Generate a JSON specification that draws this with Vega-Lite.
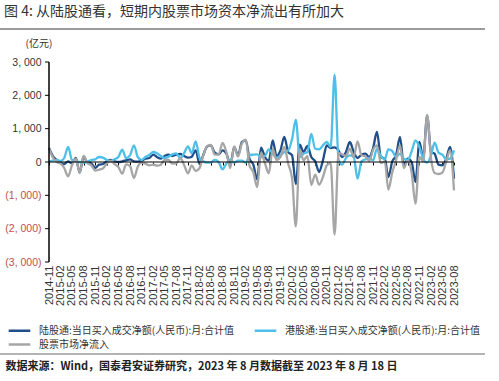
{
  "$schema": "https://vega.github.io/schema/vega-lite/v6.json",
  "width": 405,
  "height": 200,
  "autosize": "none",
  "padding": {"left": 49, "top": 62, "right": 45, "bottom": 119},
  "background": "white",
  "config": {"view": {"stroke": null}, "font": "Noto Sans CJK SC"},
  "title": {
    "text": "图 4: 从陆股通看，短期内股票市场资本净流出有所加大",
    "anchor": "start", "frame": "group", "dx": -45, "offset": 9,
    "font": "Noto Sans CJK SC", "fontSize": 14, "fontWeight": "normal", "color": "#333"
  },
  "datasets": {
    "flows": [
      {"date": "2014-11", "N": 420, "S": 20, "G": 400},
      {"date": "2014-12", "N": 180, "S": 40, "G": 140},
      {"date": "2015-01", "N": 60, "S": 60, "G": 0},
      {"date": "2015-02", "N": -20, "S": 30, "G": -50},
      {"date": "2015-03", "N": -60, "S": 120, "G": -180},
      {"date": "2015-04", "N": 20, "S": 450, "G": -430},
      {"date": "2015-05", "N": -40, "S": 60, "G": -100},
      {"date": "2015-06", "N": 120, "S": 20, "G": 100},
      {"date": "2015-07", "N": -320, "S": 0, "G": -320},
      {"date": "2015-08", "N": 160, "S": -20, "G": 180},
      {"date": "2015-09", "N": -20, "S": 10, "G": -30},
      {"date": "2015-10", "N": -40, "S": 60, "G": -100},
      {"date": "2015-11", "N": -180, "S": 80, "G": -260},
      {"date": "2015-12", "N": -80, "S": 150, "G": -230},
      {"date": "2016-01", "N": -60, "S": 130, "G": -190},
      {"date": "2016-02", "N": 20, "S": 60, "G": -40},
      {"date": "2016-03", "N": 60, "S": 20, "G": 40},
      {"date": "2016-04", "N": 20, "S": 80, "G": -60},
      {"date": "2016-05", "N": 0, "S": 150, "G": -150},
      {"date": "2016-06", "N": 20, "S": 370, "G": -350},
      {"date": "2016-07", "N": 50, "S": 120, "G": -70},
      {"date": "2016-08", "N": 80, "S": 200, "G": -120},
      {"date": "2016-09", "N": 20, "S": 500, "G": -480},
      {"date": "2016-10", "N": 10, "S": 150, "G": -140},
      {"date": "2016-11", "N": 40, "S": 60, "G": -20},
      {"date": "2016-12", "N": 100, "S": 150, "G": -50},
      {"date": "2017-01", "N": 120, "S": 220, "G": -100},
      {"date": "2017-02", "N": 220, "S": 300, "G": -80},
      {"date": "2017-03", "N": 150, "S": 260, "G": -110},
      {"date": "2017-04", "N": 100, "S": 180, "G": -80},
      {"date": "2017-05", "N": 180, "S": 120, "G": 60},
      {"date": "2017-06", "N": 220, "S": 160, "G": 60},
      {"date": "2017-07", "N": 180, "S": 230, "G": -50},
      {"date": "2017-08", "N": 220, "S": 260, "G": -40},
      {"date": "2017-09", "N": 240, "S": 120, "G": 120},
      {"date": "2017-10", "N": 180, "S": 260, "G": -80},
      {"date": "2017-11", "N": 130, "S": 470, "G": -340},
      {"date": "2017-12", "N": 160, "S": 260, "G": -100},
      {"date": "2018-01", "N": 350, "S": 620, "G": -270},
      {"date": "2018-02", "N": -60, "S": 120, "G": -180},
      {"date": "2018-03", "N": 200, "S": 20, "G": 180},
      {"date": "2018-04", "N": 460, "S": -20, "G": 480},
      {"date": "2018-05", "N": 500, "S": -10, "G": 510},
      {"date": "2018-06", "N": 280, "S": 60, "G": 220},
      {"date": "2018-07", "N": 230, "S": 0, "G": 230},
      {"date": "2018-08", "N": 350, "S": -220, "G": 570},
      {"date": "2018-09", "N": 250, "S": -40, "G": 290},
      {"date": "2018-10", "N": -100, "S": 80, "G": -180},
      {"date": "2018-11", "N": 450, "S": -20, "G": 470},
      {"date": "2018-12", "N": 200, "S": 40, "G": 160},
      {"date": "2019-01", "N": 600, "S": 40, "G": 560},
      {"date": "2019-02", "N": 650, "S": -20, "G": 670},
      {"date": "2019-03", "N": 100, "S": 200, "G": -100},
      {"date": "2019-04", "N": -80, "S": 220, "G": -300},
      {"date": "2019-05", "N": -520, "S": 230, "G": -750},
      {"date": "2019-06", "N": 430, "S": 150, "G": 280},
      {"date": "2019-07", "N": 150, "S": 180, "G": -30},
      {"date": "2019-08", "N": 40, "S": 380, "G": -340},
      {"date": "2019-09", "N": 650, "S": 260, "G": 390},
      {"date": "2019-10", "N": 180, "S": 120, "G": 60},
      {"date": "2019-11", "N": 350, "S": 200, "G": 150},
      {"date": "2019-12", "N": 750, "S": 300, "G": 450},
      {"date": "2020-01", "N": 300, "S": 350, "G": -50},
      {"date": "2020-02", "N": 200, "S": 700, "G": -500},
      {"date": "2020-03", "N": -660, "S": 1270, "G": -1930},
      {"date": "2020-04", "N": 520, "S": 150, "G": 370},
      {"date": "2020-05", "N": 300, "S": 250, "G": 50},
      {"date": "2020-06", "N": 480, "S": 300, "G": 180},
      {"date": "2020-07", "N": 150, "S": 840, "G": -690},
      {"date": "2020-08", "N": 20, "S": 400, "G": -380},
      {"date": "2020-09", "N": -300, "S": 380, "G": -680},
      {"date": "2020-10", "N": 50, "S": 500, "G": -450},
      {"date": "2020-11", "N": 500, "S": 600, "G": -100},
      {"date": "2020-12", "N": 420, "S": 450, "G": -30},
      {"date": "2021-01", "N": 440, "S": 2620, "G": -2180},
      {"date": "2021-02", "N": 350, "S": 80, "G": 270},
      {"date": "2021-03", "N": 150, "S": -80, "G": 230},
      {"date": "2021-04", "N": 300, "S": 120, "G": 180},
      {"date": "2021-05", "N": 600, "S": 200, "G": 400},
      {"date": "2021-06", "N": 300, "S": 150, "G": 150},
      {"date": "2021-07", "N": 120, "S": -500, "G": 620},
      {"date": "2021-08", "N": 220, "S": 20, "G": 200},
      {"date": "2021-09", "N": 250, "S": 80, "G": 170},
      {"date": "2021-10", "N": 150, "S": 120, "G": 30},
      {"date": "2021-11", "N": 420, "S": 50, "G": 370},
      {"date": "2021-12", "N": 900, "S": 400, "G": 500},
      {"date": "2022-01", "N": 150, "S": 180, "G": -30},
      {"date": "2022-02", "N": 100, "S": 80, "G": 20},
      {"date": "2022-03", "N": -450, "S": 380, "G": -830},
      {"date": "2022-04", "N": 20, "S": 330, "G": -310},
      {"date": "2022-05", "N": 200, "S": 150, "G": 50},
      {"date": "2022-06", "N": 750, "S": 250, "G": 500},
      {"date": "2022-07", "N": -80, "S": 100, "G": -180},
      {"date": "2022-08", "N": 100, "S": 60, "G": 40},
      {"date": "2022-09", "N": 0, "S": 320, "G": -320},
      {"date": "2022-10", "N": -600, "S": 650, "G": -1250},
      {"date": "2022-11", "N": 600, "S": 450, "G": 150},
      {"date": "2022-12", "N": 120, "S": 100, "G": 20},
      {"date": "2023-01", "N": 1390, "S": -20, "G": 1410},
      {"date": "2023-02", "N": 300, "S": 200, "G": 100},
      {"date": "2023-03", "N": 250, "S": 580, "G": -330},
      {"date": "2023-04", "N": -80, "S": 280, "G": -360},
      {"date": "2023-05", "N": -100, "S": 220, "G": -320},
      {"date": "2023-06", "N": 100, "S": 80, "G": 20},
      {"date": "2023-07", "N": 450, "S": 100, "G": 350},
      {"date": "2023-08", "N": -500, "S": 350, "G": -850}
    ],
    "yticks": [
      {"v": -3000}, {"v": -2000}, {"v": -1000}, {"v": 0}, {"v": 1000}, {"v": 2000}, {"v": 3000}
    ]
  },
  "layer": [
    {
      "data": {"name": "flows", "format": {"parse": {"date": "date:'%Y-%m'"}}},
      "transform": [{"fold": ["N", "S", "G"], "as": ["series", "value"]}],
      "mark": {"type": "line", "interpolate": "monotone", "strokeWidth": 2.3},
      "encoding": {
        "x": {
          "field": "date", "type": "temporal",
          "scale": {"domain": [{"year": 2014, "month": 11, "date": 1}, {"year": 2023, "month": 8, "date": 1}]},
          "axis": {
            "orient": "bottom",
            "values": [
              {"year": 2014, "month": 11, "date": 1},
              {"year": 2015, "month": 2, "date": 1}, {"year": 2015, "month": 5, "date": 1}, {"year": 2015, "month": 8, "date": 1}, {"year": 2015, "month": 11, "date": 1},
              {"year": 2016, "month": 2, "date": 1}, {"year": 2016, "month": 5, "date": 1}, {"year": 2016, "month": 8, "date": 1}, {"year": 2016, "month": 11, "date": 1},
              {"year": 2017, "month": 2, "date": 1}, {"year": 2017, "month": 5, "date": 1}, {"year": 2017, "month": 8, "date": 1}, {"year": 2017, "month": 11, "date": 1},
              {"year": 2018, "month": 2, "date": 1}, {"year": 2018, "month": 5, "date": 1}, {"year": 2018, "month": 8, "date": 1}, {"year": 2018, "month": 11, "date": 1},
              {"year": 2019, "month": 2, "date": 1}, {"year": 2019, "month": 5, "date": 1}, {"year": 2019, "month": 8, "date": 1}, {"year": 2019, "month": 11, "date": 1},
              {"year": 2020, "month": 2, "date": 1}, {"year": 2020, "month": 5, "date": 1}, {"year": 2020, "month": 8, "date": 1}, {"year": 2020, "month": 11, "date": 1},
              {"year": 2021, "month": 2, "date": 1}, {"year": 2021, "month": 5, "date": 1}, {"year": 2021, "month": 8, "date": 1}, {"year": 2021, "month": 11, "date": 1},
              {"year": 2022, "month": 2, "date": 1}, {"year": 2022, "month": 5, "date": 1}, {"year": 2022, "month": 8, "date": 1}, {"year": 2022, "month": 11, "date": 1},
              {"year": 2023, "month": 2, "date": 1}, {"year": 2023, "month": 5, "date": 1}, {"year": 2023, "month": 8, "date": 1}
            ],
            "format": "%Y-%m",
            "labelAngle": -90,
            "labelFont": "Liberation Sans",
            "labelFontSize": 11,
            "labelColor": "#333",
            "labelPadding": 3,
            "labelOverlap": false,
            "labelFlush": false,
            "domain": false,
            "ticks": false,
            "grid": false,
            "title": "数据来源：Wind，国泰君安证券研究，2023 年 8 月数据截至 2023 年 8 月 18 日",
            "titleFont": "Noto Sans CJK SC",
            "titleFontWeight": "bold",
            "titleFontSize": 11,
            "titleColor": "#222",
            "titleX": -44,
            "titleY": 107,
            "titleAlign": "left",
            "titleAnchor": "start",
            "titleBaseline": "alphabetic"
          }
        },
        "y": {
          "field": "value", "type": "quantitative",
          "scale": {"domain": [-3000, 3000]},
          "axis": {
            "orient": "left",
            "values": [-3000, -2000, -1000, 0, 1000, 2000, 3000],
            "labelExpr": "datum.value < 0 ? '(' + replace(format(-datum.value, ','), ',', ', ') + ')' : replace(format(datum.value, ','), ',', ', ')",
            "labelColor": {"condition": {"test": "datum.value < 0", "value": "#c0504d"}, "value": "#333"},
            "labelFont": "Liberation Sans",
            "labelFontSize": 10.5,
            "labelPadding": 8,
            "labelOverlap": false,
            "labelFlush": false,
            "domain": false,
            "ticks": false,
            "grid": false,
            "title": "(亿元)",
            "titleAngle": 0,
            "titleX": -24,
            "titleY": -19,
            "titleAlign": "left",
            "titleBaseline": "middle",
            "titleFont": "Noto Sans CJK SC",
            "titleFontSize": 10,
            "titleFontWeight": "normal",
            "titleColor": "#333"
          }
        },
        "color": {
          "field": "series", "type": "nominal",
          "scale": {"domain": ["N", "G", "S"], "range": ["#1f4e89", "#a6a6a6", "#4dbfe8"]},
          "legend": {
            "orient": "none",
            "legendX": -42,
            "legendY": 261,
            "columns": 2,
            "title": null,
            "symbolType": "M-1.8,0H1.8",
            "symbolSize": 144,
            "symbolStrokeWidth": 2.5,
            "symbolOffset": 5,
            "labelOffset": 12,
            "labelFont": "Noto Sans CJK SC",
            "labelFontSize": 10,
            "labelColor": "#333",
            "labelLimit": 400,
            "columnPadding": 14,
            "rowPadding": 1,
            "labelExpr": "datum.label == 'N' ? '陆股通:当日买入成交净额(人民币):月:合计值' : datum.label == 'S' ? '港股通:当日买入成交净额(人民币):月:合计值' : '股票市场净流入'"
          }
        }
      }
    },
    {
      "data": {"values": [{}]},
      "mark": {"type": "rule", "color": "#9a9a9a", "strokeWidth": 2},
      "encoding": {
        "x": {"datum": {"year": 2013, "month": 10, "date": 1}, "type": "temporal", "axis": null},
        "x2": {"datum": {"year": 2024, "month": 4, "date": 1}},
        "y": {"datum": 3990, "type": "quantitative", "axis": null}
      }
    },
    {
      "data": {"values": [{}]},
      "mark": {"type": "rule", "color": "#9a9a9a", "strokeWidth": 1.5},
      "encoding": {
        "x": {"datum": {"year": 2013, "month": 10, "date": 1}, "type": "temporal", "axis": null},
        "x2": {"datum": {"year": 2024, "month": 4, "date": 1}},
        "y": {"datum": -5760, "type": "quantitative", "axis": null}
      }
    },
    {
      "data": {"values": [{}]},
      "mark": {"type": "rule", "color": "#000000", "strokeWidth": 1.5},
      "encoding": {
        "x": {"datum": {"year": 2014, "month": 11, "date": 1}, "type": "temporal", "axis": null},
        "y": {"datum": -3000, "type": "quantitative", "axis": null},
        "y2": {"datum": 3000}
      }
    },
    {
      "data": {"name": "yticks"},
      "mark": {"type": "rule", "color": "#000", "strokeWidth": 1},
      "encoding": {
        "x": {"datum": {"year": 2014, "month": 10, "date": 1}, "type": "temporal", "axis": null},
        "x2": {"datum": {"year": 2014, "month": 11, "date": 1}},
        "y": {"field": "v", "type": "quantitative", "axis": null}
      }
    },
    {
      "data": {"values": [{}]},
      "mark": {"type": "rule", "color": "#000", "strokeWidth": 1.2},
      "encoding": {
        "x": {"datum": {"year": 2014, "month": 11, "date": 1}, "type": "temporal",
              "axis": {
                "orient": "bottom", "offset": -100, "labels": false, "domain": false, "grid": false,
                "ticks": true, "tickSize": 3, "tickColor": "#000", "title": null,
                "values": [
                  {"year": 2014, "month": 11, "date": 1},
                  {"year": 2015, "month": 2, "date": 1}, {"year": 2015, "month": 5, "date": 1}, {"year": 2015, "month": 8, "date": 1}, {"year": 2015, "month": 11, "date": 1},
                  {"year": 2016, "month": 2, "date": 1}, {"year": 2016, "month": 5, "date": 1}, {"year": 2016, "month": 8, "date": 1}, {"year": 2016, "month": 11, "date": 1},
                  {"year": 2017, "month": 2, "date": 1}, {"year": 2017, "month": 5, "date": 1}, {"year": 2017, "month": 8, "date": 1}, {"year": 2017, "month": 11, "date": 1},
                  {"year": 2018, "month": 2, "date": 1}, {"year": 2018, "month": 5, "date": 1}, {"year": 2018, "month": 8, "date": 1}, {"year": 2018, "month": 11, "date": 1},
                  {"year": 2019, "month": 2, "date": 1}, {"year": 2019, "month": 5, "date": 1}, {"year": 2019, "month": 8, "date": 1}, {"year": 2019, "month": 11, "date": 1},
                  {"year": 2020, "month": 2, "date": 1}, {"year": 2020, "month": 5, "date": 1}, {"year": 2020, "month": 8, "date": 1}, {"year": 2020, "month": 11, "date": 1},
                  {"year": 2021, "month": 2, "date": 1}, {"year": 2021, "month": 5, "date": 1}, {"year": 2021, "month": 8, "date": 1}, {"year": 2021, "month": 11, "date": 1},
                  {"year": 2022, "month": 2, "date": 1}, {"year": 2022, "month": 5, "date": 1}, {"year": 2022, "month": 8, "date": 1}, {"year": 2022, "month": 11, "date": 1},
                  {"year": 2023, "month": 2, "date": 1}, {"year": 2023, "month": 5, "date": 1}, {"year": 2023, "month": 8, "date": 1}
                ]
              }},
        "x2": {"datum": {"year": 2023, "month": 8, "date": 1}},
        "y": {"datum": 0, "type": "quantitative", "axis": null}
      }
    }
  ],
  "resolve": {"axis": {"x": "independent", "y": "independent"}}
}
